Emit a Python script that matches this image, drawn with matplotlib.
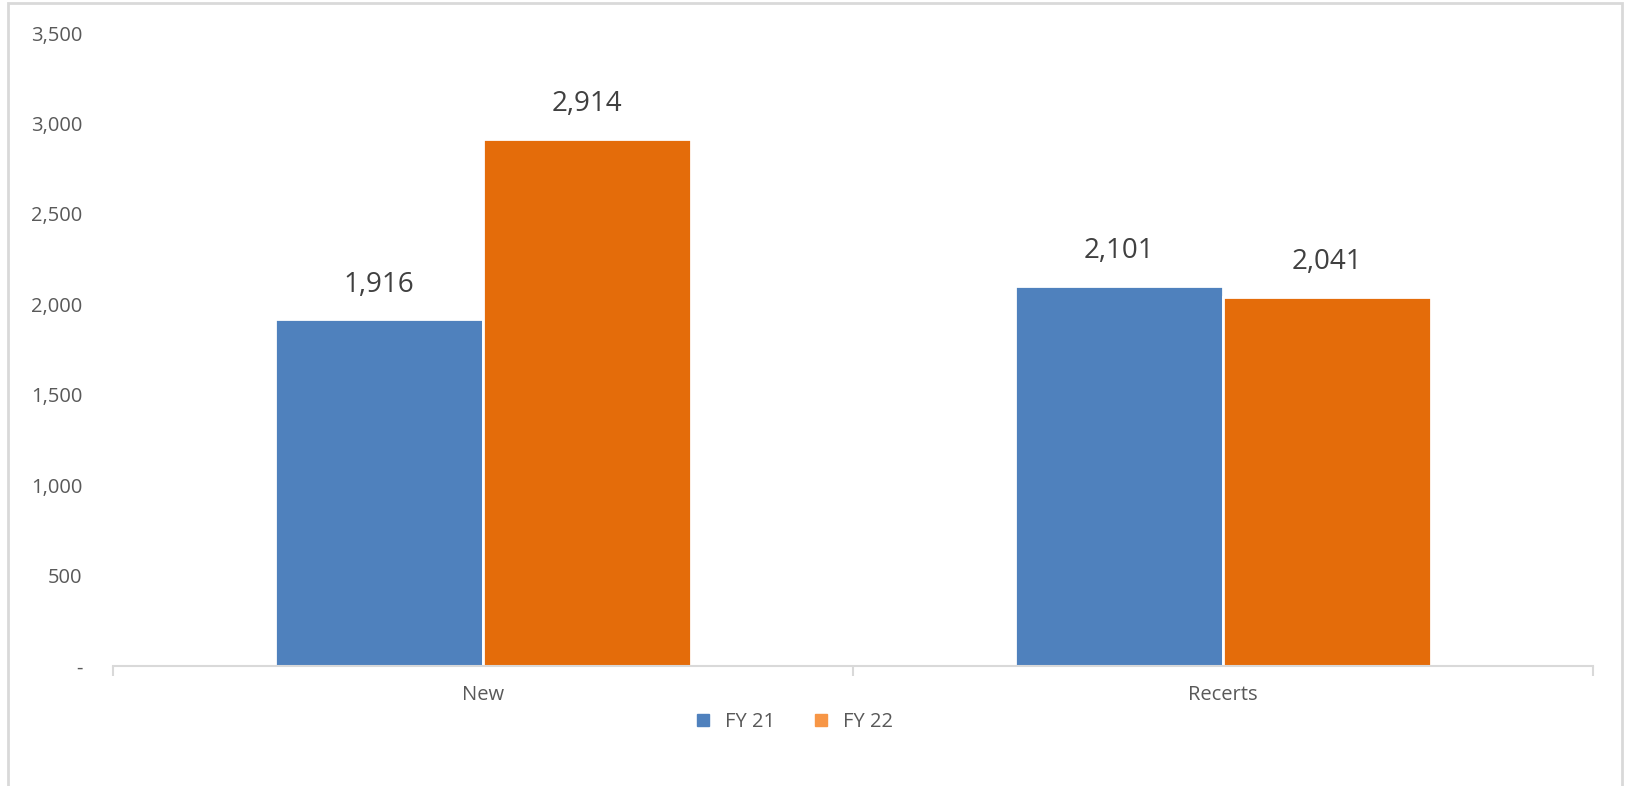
import matplotlib.pyplot as plt
import numpy as np
from matplotlib.patches import Rectangle, Patch
from matplotlib.ticker import FuncFormatter

categories = ['New', 'Recerts']
fy21 = [1916, 2101]
fy22 = [2914, 2041]
series_names = ['FY 21', 'FY 22']

plt.rcParams['font.family'] = ['Open Sans', 'DejaVu Sans']
txt = '#595959'

fig = plt.figure(figsize=(16.27, 7.86), dpi=100)
ax = fig.add_axes([0.0695, 0.1527, 0.9095, 0.8053])

# light grey frame round the whole chart
fig.patches.append(Rectangle((8 / 1627, -0.01), 1614 / 1627, 1.006,
                             transform=fig.transFigure, fill=False,
                             edgecolor='#D9D9D9', linewidth=2))

x = np.arange(len(categories))
w = 0.2811
b1 = ax.bar(x - w / 2, fy21, w, color='#4F81BD', edgecolor='white', linewidth=2)
b2 = ax.bar(x + w / 2, fy22, w, color='#E46C0A', edgecolor='white', linewidth=2)

for bars in (b1, b2):
    for r in bars:
        ax.annotate(f'{int(r.get_height()):,}', (r.get_x() + r.get_width() / 2, r.get_height()),
                    xytext=(0, 15), textcoords='offset points', ha='center', va='bottom',
                    fontsize=20, color='#404040')

ax.set_xlim(-0.5, 1.5)
ax.set_ylim(0, 3500)
ax.set_yticks(range(0, 3501, 500))
ax.yaxis.set_major_formatter(FuncFormatter(lambda v, p: '-' if v == 0 else f'{int(v):,}'))
ax.set_xticks(x)
ax.set_xticklabels(categories)
ax.set_xticks([-0.5, 0.5, 1.5], minor=True)
ax.tick_params(axis='x', which='major', length=0, pad=14, labelsize=14.5, labelcolor=txt)
ax.tick_params(axis='x', which='minor', length=7, color='#D9D9D9', width=1.5)
ax.tick_params(axis='y', length=0, pad=22, labelsize=14.5, labelcolor=txt)
for s in ['top', 'right', 'left']:
    ax.spines[s].set_visible(False)
ax.spines['bottom'].set_color('#D9D9D9')
ax.spines['bottom'].set_linewidth(1.5)

handles = [Patch(color='#4F81BD'), Patch(color='#F79646')]
fig.legend(handles, series_names, loc='center', bbox_to_anchor=(795 / 1627, 1 - 722 / 786),
           ncol=2, frameon=False, fontsize=14.5, labelcolor=txt, handlelength=0.6,
           handleheight=0.6, handletextpad=0.8, columnspacing=2.0)

fig.savefig('out.png', dpi=100)
